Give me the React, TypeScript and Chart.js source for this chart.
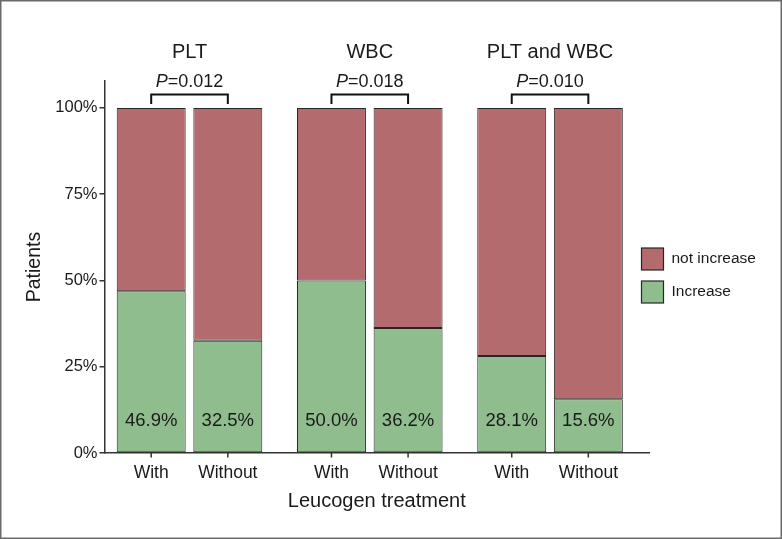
import React, { useEffect, useRef } from "react";
import { Chart, registerables } from "chart.js";

Chart.register(...registerables);

const groups = ["PLT", "WBC", "PLT and WBC"];
const treatments = ["With", "Without"];
const increaseWith = [46.9, 50.0, 28.1];
const increaseWithout = [32.5, 36.2, 15.6];
const notIncreaseWith = [53.1, 50.0, 71.9];
const notIncreaseWithout = [67.5, 63.8, 84.4];
const pValues = ["0.012", "0.018", "0.010"];
const yTicks = [0, 25, 50, 75, 100];
const seriesLabels = ["Increase", "not increase"];

const FONT = "'Liberation Sans', Arial, Helvetica, sans-serif";
const RED = "#b46b6e";
const GREEN = "#8fbd8e";
const EDGE = "#262626";
const INK = "#1a1a1a";

const overlay = {
  id: "overlay",
  afterDraw(chart: any) {
    const ctx = chart.ctx as CanvasRenderingContext2D;
    const y = chart.scales.y;
    const base = y.getPixelForValue(0);
    const mWith = chart.getDatasetMeta(0);
    const mWithout = chart.getDatasetMeta(2);
    ctx.save();
    ctx.fillStyle = INK;
    ctx.strokeStyle = INK;

    // per-bar tick marks, x labels and percent labels
    [mWith, mWithout].forEach((meta: any, t: number) => {
      const vals = t === 0 ? increaseWith : increaseWithout;
      meta.data.forEach((el: any, i: number) => {
        const bx = el.x;
        ctx.lineWidth = 1.5;
        ctx.strokeStyle = "#333";
        ctx.beginPath();
        ctx.moveTo(bx, base);
        ctx.lineTo(bx, base + 4.5);
        ctx.stroke();
        ctx.fillStyle = INK;
        ctx.textAlign = "center";
        ctx.textBaseline = "alphabetic";
        ctx.font = `17.5px ${FONT}`;
        ctx.fillText(treatments[t], bx, 477.5);
        ctx.font = `18.5px ${FONT}`;
        ctx.fillText(`${vals[i].toFixed(1)}%`, bx, base - 27.3);
      });
    });

    // group titles, p-values, brackets
    groups.forEach((g, i) => {
      const x1 = mWith.data[i].x;
      const x2 = mWithout.data[i].x;
      const cx = (x1 + x2) / 2;
      ctx.fillStyle = INK;
      ctx.textAlign = "center";
      ctx.textBaseline = "alphabetic";
      ctx.font = `20px ${FONT}`;
      ctx.fillText(g, cx, 57.7);

      const pItalic = `italic 18px ${FONT}`;
      const pNormal = `18px ${FONT}`;
      ctx.font = pItalic;
      const wP = ctx.measureText("P").width;
      ctx.font = pNormal;
      const rest = `=${pValues[i]}`;
      const wR = ctx.measureText(rest).width;
      const sx = cx - (wP + wR) / 2;
      ctx.textAlign = "left";
      ctx.font = pItalic;
      ctx.fillText("P", sx, 86.6);
      ctx.font = pNormal;
      ctx.fillText(rest, sx + wP, 86.6);

      ctx.lineWidth = 2;
      ctx.strokeStyle = "#111";
      ctx.beginPath();
      ctx.moveTo(x1, 104);
      ctx.lineTo(x1, 94.5);
      ctx.lineTo(x2, 94.5);
      ctx.lineTo(x2, 104);
      ctx.stroke();
    });

    // legend
    const legendItems = [chart.data.datasets[1], chart.data.datasets[0]];
    legendItems.forEach((ds: any, k: number) => {
      const top = 248 + k * 33;
      ctx.fillStyle = ds.backgroundColor;
      ctx.fillRect(641.5, top, 22, 22);
      ctx.lineWidth = 1.2;
      ctx.strokeStyle = EDGE;
      ctx.strokeRect(641.5, top, 22, 22);
      ctx.fillStyle = INK;
      ctx.font = `15.5px ${FONT}`;
      ctx.textAlign = "left";
      ctx.textBaseline = "middle";
      ctx.fillText(ds.label, 671.5, top + 11);
    });

    // figure border
    ctx.lineWidth = 1.5;
    ctx.strokeStyle = "#6a6a6a";
    ctx.strokeRect(0.75, 0.75, 780.5, 537.5);
    ctx.restore();
  },
};

export default function App() {
  const ref = useRef<HTMLCanvasElement | null>(null);

  useEffect(() => {
    document.body.style.margin = "0";
    const canvas = ref.current;
    if (!canvas) return;
    const toPts = (arr: number[]) => arr.map((v, i) => ({ x: i, y: v }));
    const common = { borderColor: EDGE, borderWidth: 1, borderSkipped: false as const };
    const chart = new Chart(canvas, {
      type: "bar",
      data: {
        datasets: [
          { label: seriesLabels[0], data: toPts(increaseWith), stack: "with", backgroundColor: GREEN, ...common },
          { label: seriesLabels[1], data: toPts(notIncreaseWith), stack: "with", backgroundColor: RED, ...common },
          { label: seriesLabels[0], data: toPts(increaseWithout), stack: "without", backgroundColor: GREEN, ...common },
          { label: seriesLabels[1], data: toPts(notIncreaseWithout), stack: "without", backgroundColor: RED, ...common },
        ],
      },
      options: {
        animation: false,
        responsive: false,
        devicePixelRatio: 1,
        categoryPercentage: 0.85,
        barPercentage: 0.9,
        layout: { padding: { top: 81, right: 133, bottom: 0, left: 0 } },
        plugins: {
          legend: { display: false },
          tooltip: { enabled: false },
        },
        scales: {
          x: {
            type: "linear",
            min: -0.4716,
            max: 2.549,
            offset: false,
            afterBuildTicks: (s: any) => {
              s.ticks = groups.map((_, i) => ({ value: i }));
            },
            grid: { display: false },
            ticks: { display: false },
            border: { display: true, color: "#333", width: 1.5 },
            title: {
              display: true,
              text: "Leucogen treatment",
              color: INK,
              font: { size: 20, family: FONT },
              padding: { top: 0, bottom: 26 },
            },
            afterFit: (s: any) => {
              s.height = 86;
            },
          },
          y: {
            stacked: true,
            min: 0,
            max: 107.8,
            afterBuildTicks: (s: any) => {
              s.ticks = yTicks.map((v) => ({ value: v }));
            },
            ticks: {
              color: INK,
              font: { size: 16.5, family: FONT },
              padding: 2,
              callback: (v: any) => `${v}%`,
            },
            grid: { display: true, drawOnChartArea: false, drawTicks: true, tickLength: 5, color: "#333", lineWidth: 1.5 },
            border: { display: true, color: "#333", width: 1.5 },
            title: {
              display: true,
              text: "Patients",
              color: INK,
              font: { size: 19.5, family: FONT },
              padding: { top: 23, bottom: 0 },
            },
            afterFit: (s: any) => {
              s.width = 104.5;
            },
          },
        },
      },
      plugins: [overlay],
    });
    return () => chart.destroy();
  }, []);

  return (
    <div style={{ width: 782, height: 539, background: "#fff" }}>
      <canvas ref={ref} width={782} height={539} style={{ display: "block", width: 782, height: 539 }} />
    </div>
  );
}
